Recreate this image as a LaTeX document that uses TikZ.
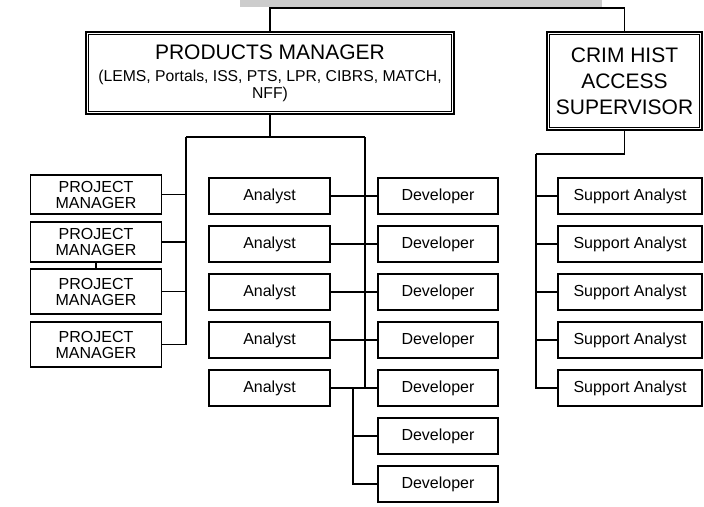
\documentclass[tikz,border=0pt]{standalone}
\usepackage{fontspec}
\setmainfont{Liberation Sans}
\begin{document}
\begin{tikzpicture}[x=0.75pt,y=-0.75pt,
  conn/.style={draw=black, line width=1.3pt},
  box/.style={draw=black, line width=1.2pt, fill=white, inner sep=0pt, align=center,
    font=\fontsize{12}{12}\selectfont, minimum height=27pt},
  pjbox/.style={box, minimum width=98.25pt},
  anbox/.style={box, minimum width=90.75pt},
  devbox/.style={box, minimum width=90pt},
  sabox/.style={box, minimum width=108pt},
  headbox/.style={draw=black, line width=1.5pt, fill=white, inner sep=0pt, align=center},
  innerline/.style={draw=black, line width=1pt}
]
\useasboundingbox (0,0) rectangle (704,507);

% top unit, cut off at the upper edge
\node[fill=black!20, inner sep=0pt, minimum width=271.5pt, minimum height=18pt] (top) at (421,-5) {};

% heads
\node[headbox, minimum width=276pt, minimum height=61.5pt,
      font=\fontsize{11.8}{12.75}\selectfont] (pm) at (270,73)
  {{\fontsize{15.75}{16}\selectfont PRODUCTS MANAGER}\\[3.75pt](LEMS, Portals, ISS, PTS, LPR, CIBRS, MATCH,\\NFF)};
\draw[innerline] ([shift={(3.5,3.5)}]pm.north west) rectangle ([shift={(-3.5,-3.5)}]pm.south east);

\node[headbox, minimum width=116.25pt, minimum height=73.5pt,
      font=\fontsize{15.75}{19.5}\selectfont] (crim) at (624.5,81)
  {CRIM HIST\\ACCESS\\SUPERVISOR};
\draw[innerline] ([shift={(3.5,3.5)}]crim.north west) rectangle ([shift={(-3.5,-3.5)}]crim.south east);

% project managers
\node[pjbox, minimum height=29.25pt] (pj1) at (96,194.5) {PROJECT\\MANAGER};
\node[pjbox, minimum height=30pt]    (pj2) at (96,242)   {PROJECT\\MANAGER};
\node[pjbox, minimum height=33.75pt] (pj3) at (96,291.5) {PROJECT\\MANAGER};
\node[pjbox, minimum height=33.75pt] (pj4) at (96,344.5) {PROJECT\\MANAGER};

% analysts and developers
\foreach \i/\y in {1/196,2/244,3/292,4/340,5/388} {
  \node[anbox] (an\i) at (269.5,\y) {Analyst};
}
\foreach \i/\y in {1/196,2/244,3/292,4/340,5/388,6/436,7/484} {
  \node[devbox] (dev\i) at (438,\y) {Developer};
}

% support analysts
\foreach \i/\y in {1/196,2/244,3/292,4/340,5/388} {
  \node[sabox] (sa\i) at (630,\y) {Support Analyst};
}

% junction points
\coordinate (tj) at (397,8);
\coordinate (lbus) at (186,137);
\coordinate (rbus) at (365,137);
\coordinate (dbr) at (353,388);
\coordinate (cbus) at (536,154);

% connectors
\draw[conn] (top.south -| tj) -- (tj);
\draw[conn] (pm.north) |- (tj) -| (crim.north);

\draw[conn] (pm.south) |- (lbus);
\draw[conn] (lbus) -- (rbus);
\draw[conn] (lbus) |- (pj4.east);
\foreach \i in {1,2,3} { \draw[conn] (pj\i.east) -- (pj\i.east -| lbus); }
\draw[conn] (pj2.south) -- (pj3.north);

\draw[conn] (rbus) -- (rbus |- an5.east);
\foreach \i in {1,...,5} { \draw[conn] (an\i.east) -- (dev\i.west); }
\draw[conn] (dbr) |- (dev7.west);
\draw[conn] (dev6.west) -- (dev6.west -| dbr);

\draw[conn] (crim.south) |- (cbus);
\draw[conn] (cbus) |- (sa5.west);
\foreach \i in {1,...,4} { \draw[conn] (sa\i.west) -- (sa\i.west -| cbus); }
\end{tikzpicture}
\end{document}
